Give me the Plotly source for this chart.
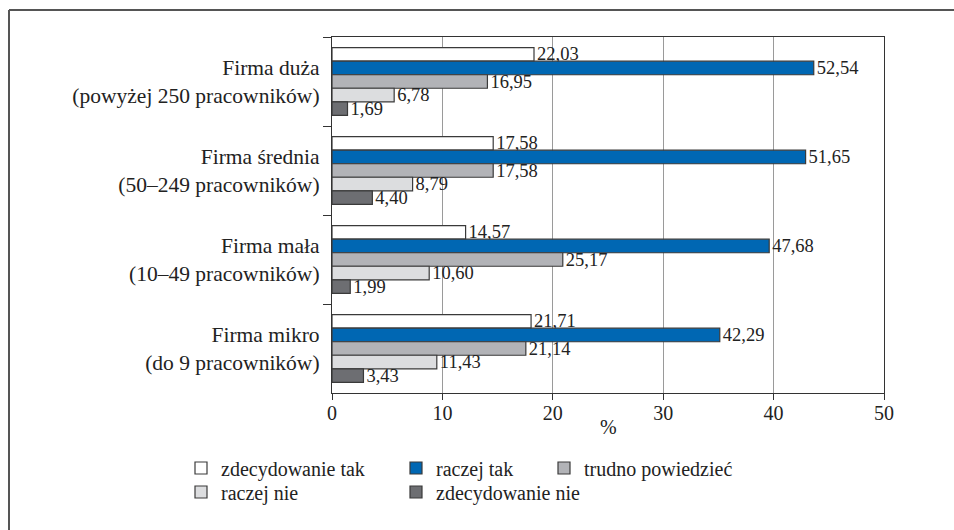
import plotly.graph_objects as go

# ---- data ----
categories = [
    "Firma duża<br>(powyżej 250 pracowników)",
    "Firma średnia<br>(50–249 pracowników)",
    "Firma mała<br>(10–49 pracowników)",
    "Firma mikro<br>(do 9 pracowników)",
]
series_names = ["zdecydowanie tak", "raczej tak", "trudno powiedzieć", "raczej nie", "zdecydowanie nie"]
zdecydowanie_tak = [22.03, 17.58, 14.57, 21.71]
raczej_tak = [52.54, 51.65, 47.68, 42.29]
trudno_powiedziec = [16.95, 17.58, 25.17, 21.14]
raczej_nie = [6.78, 8.79, 10.60, 11.43]
zdecydowanie_nie = [1.69, 4.40, 1.99, 3.43]
tick_labels = ["0", "10", "20", "30", "40", "50"]
axis_title = "%"

series_values = [zdecydowanie_tak, raczej_tak, trudno_powiedziec, raczej_nie, zdecydowanie_nie]

# ---- style ----
colors = ["#ffffff", "#0067b3", "#b2b3b7", "#dcdddf", "#6d6e72"]
FONT = "Liberation Serif"
FS = 20
W, H = 954, 530
L, R, T, B = 332, 70, 37, 137
XMAX = 60.2

def px_x(px):
    return (px - L) / (W - L - R)

def px_y(py):
    return (H - B - py) / (H - T - B)

# legend slot positions (left px, centre-y px) for each series
legend_slots = [(181, 468), (396, 468), (544, 468), (181, 492), (396, 492)]
legend_ids = ["legend", "legend2", "legend3", "legend4", "legend5"]

fig = go.Figure()
for name, vals, col, lg in zip(series_names, series_values, colors, legend_ids):
    fig.add_trace(go.Bar(
        y=categories, x=vals, name=name, orientation="h",
        marker=dict(color=col, line=dict(color="#3a3a3a", width=1.2)),
        text=[f"{v:.2f}".replace(".", ",") for v in vals],
        textposition="outside", constraintext="none", cliponaxis=False,
        textfont=dict(family=FONT, size=18.5, color="#222"),
        legend=lg,
    ))

legend_common = dict(orientation="v", xanchor="left", yanchor="middle",
                     font=dict(family=FONT, size=FS, color="#222"),
                     bgcolor="rgba(0,0,0,0)", borderwidth=0, tracegroupgap=0,
                     itemclick=False, itemdoubleclick=False)
legends = {lid: dict(x=px_x(sx), y=px_y(sy), **legend_common)
           for lid, (sx, sy) in zip(legend_ids, legend_slots)}

fig.update_layout(
    width=W, height=H,
    margin=dict(l=L, r=R, t=T, b=B, pad=0),
    paper_bgcolor="white", plot_bgcolor="white",
    barmode="group", bargap=0.24, bargroupgap=0,
    font=dict(family=FONT, size=FS, color="#222"),
    showlegend=True,
    **legends,
    xaxis=dict(
        range=[0, XMAX], tickvals=[XMAX * i / 5 for i in range(6)], ticktext=tick_labels,
        showgrid=True, gridcolor="#9a9a9a", gridwidth=1,
        showline=True, linecolor="#333", linewidth=1.3, mirror=True,
        ticks="outside", ticklen=6, tickcolor="#333", tickwidth=1.3,
        ticklabelstandoff=-4,
        tickfont=dict(family=FONT, size=FS, color="#222"),
        zeroline=False,
        automargin=False, fixedrange=True,
    ),
    yaxis=dict(
        type="category", autorange="reversed",
        showgrid=False, showline=True, linecolor="#333", linewidth=1.3, mirror=True,
        ticks="outside", ticklen=8, tickcolor="#333", tickwidth=1.3, tickson="boundaries",
        ticklabelstandoff=7,
        tickfont=dict(family=FONT, size=21.5, color="#222"),
        automargin=False, fixedrange=True,
    ),
    annotations=[
        dict(text=axis_title, xref="paper", yref="paper", x=0.5, y=px_y(427),
             xanchor="center", yanchor="middle", showarrow=False,
             font=dict(family=FONT, size=FS, color="#222")),
    ],
    shapes=[
        dict(type="line", xref="paper", yref="paper", x0=px_x(9), x1=px_x(W + 5),
             y0=px_y(10), y1=px_y(10), line=dict(color="#555", width=2)),
        dict(type="line", xref="paper", yref="paper", x0=px_x(9), x1=px_x(9),
             y0=px_y(10), y1=px_y(H + 5), line=dict(color="#555", width=2)),
    ],
)

fig.write_html("out.html")
